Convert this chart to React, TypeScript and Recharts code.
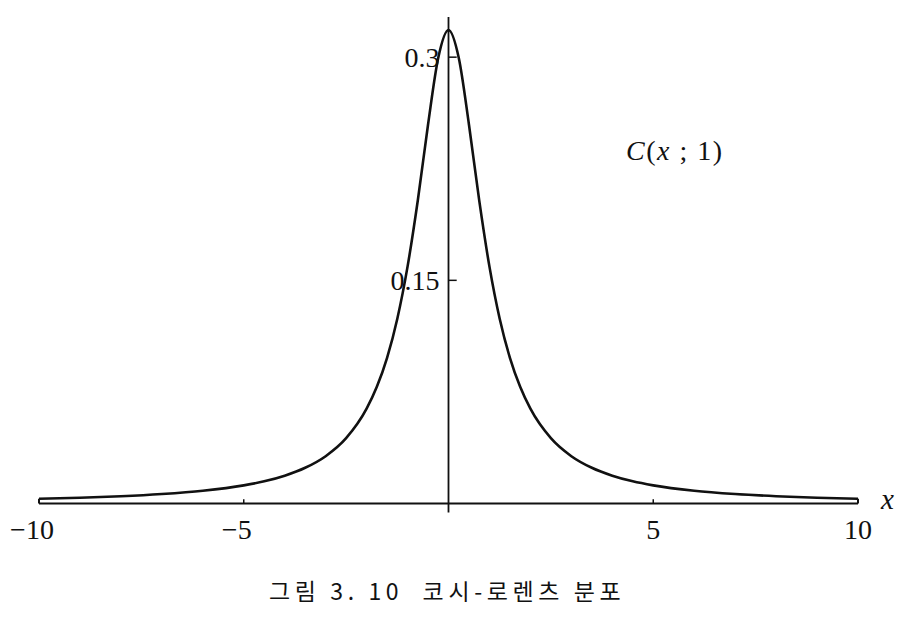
import React from 'react';
import { LineChart, Line, XAxis, YAxis, ReferenceLine } from 'recharts';

// x positions read along the curve and the heights
const xValues = [-10, -9, -8, -7, -6, -5, -4.5, -4, -3.5, -3, -2.5, -2, -1.75, -1.5, -1.25, -1, -0.75, -0.5, -0.25, 0, 0.25, 0.5, 0.75, 1, 1.25, 1.5, 1.75, 2, 2.5, 3, 3.5, 4, 4.5, 5, 6, 7, 8, 9, 10];
const densityValues = [0.0032, 0.0039, 0.0049, 0.0064, 0.0086, 0.0122, 0.0149, 0.0187, 0.0240, 0.0318, 0.0439, 0.0637, 0.0784, 0.0979, 0.1242, 0.1592, 0.2037, 0.2546, 0.2996, 0.3183, 0.2996, 0.2546, 0.2037, 0.1592, 0.1242, 0.0979, 0.0784, 0.0637, 0.0439, 0.0318, 0.0240, 0.0187, 0.0149, 0.0122, 0.0086, 0.0064, 0.0049, 0.0039, 0.0032];

const xTicks = [-10, -5, 5, 10];
const xTickLabels = ['−10', '−5', '5', '10'];
const yTicks = [0.15, 0.3];
const yTickLabels = ['0.15', '0.3'];

const axisLabel = 'x';
const caption = '그림 3. 10  코시-로렌츠 분포';

const data = xValues.map((x, i) => ({ x, y: densityValues[i] }));

const SERIF = '"Liberation Serif", "DejaVu Serif", serif';

const XTick = (props: any) => {
  const { x, y, payload } = props;
  const idx = xTicks.indexOf(payload.value);
  const label = idx >= 0 ? xTickLabels[idx] : String(payload.value);
  const neg = payload.value < 0;
  return (
    <text x={x + (neg ? -7 : 0)} y={y + 35} textAnchor="middle" fontFamily={SERIF} fontSize={28} fill="#111">
      {label}
    </text>
  );
};

export default function App() {
  const first = data[0];
  const last = data[data.length - 1];
  return (
    <div style={{ position: 'absolute', left: 0, top: 0, width: 910, height: 617, background: '#fff' }}>
      <LineChart width={910} height={617} data={data} margin={{ top: 17, right: 52, left: 39, bottom: 73.5 }}>
        <XAxis
          dataKey="x"
          type="number"
          domain={[-10, 10]}
          ticks={xTicks}
          allowDataOverflow
          height={40}
          tickSize={0}
          tickMargin={0}
          tickLine={false}
          axisLine={{ stroke: '#111', strokeWidth: 2 }}
          tick={<XTick />}
          interval={0}
        />
        <YAxis type="number" domain={[0, 0.327]} hide allowDataOverflow />
        <ReferenceLine
          segment={[{ x: 0, y: -0.006 }, { x: 0, y: 0.327 }]}
          stroke="#111"
          strokeWidth={1.8}
          ifOverflow="visible"
        />
        {yTicks.map((t, i) => (
          <ReferenceLine
            key={'yt' + t}
            segment={[{ x: 0, y: t }, { x: 0.2, y: t }]}
            stroke="#111"
            strokeWidth={1.5}
            ifOverflow="visible"
            label={{ value: yTickLabels[i], position: 'left', offset: 9, fill: '#111', fontSize: 28, fontFamily: SERIF }}
          />
        ))}
        {xTicks
          .filter((t) => Math.abs(t) !== 10)
          .map((t) => (
            <ReferenceLine
              key={'xt' + t}
              segment={[{ x: t, y: 0 }, { x: t, y: 0.0028 }]}
              stroke="#111"
              strokeWidth={1.5}
              ifOverflow="visible"
            />
          ))}
        <ReferenceLine segment={[{ x: first.x, y: 0 }, { x: first.x, y: first.y }]} stroke="#111" strokeWidth={2} ifOverflow="visible" />
        <ReferenceLine segment={[{ x: last.x, y: 0 }, { x: last.x, y: last.y }]} stroke="#111" strokeWidth={2} ifOverflow="visible" />
        <Line
          type="monotone"
          dataKey="y"
          stroke="#111"
          strokeWidth={2.6}
          dot={false}
          isAnimationActive={false}
        />
      </LineChart>
      <div style={{ position: 'absolute', left: 626, top: 135, fontFamily: SERIF, fontSize: 28, color: '#111', whiteSpace: 'pre', letterSpacing: 1.5 }}>
        <i>C</i>(<i>x</i> ; 1)
      </div>
      <div style={{ position: 'absolute', left: 881, top: 483, fontFamily: SERIF, fontSize: 29, color: '#111', fontStyle: 'italic' }}>
        {axisLabel}
      </div>
      <div style={{ position: 'absolute', left: 269, top: 573, fontFamily: '"Noto Sans CJK KR", sans-serif', fontSize: 23, color: '#111', whiteSpace: 'pre', letterSpacing: 4.6, fontWeight: 400 }}>
        {caption}
      </div>
    </div>
  );
}
